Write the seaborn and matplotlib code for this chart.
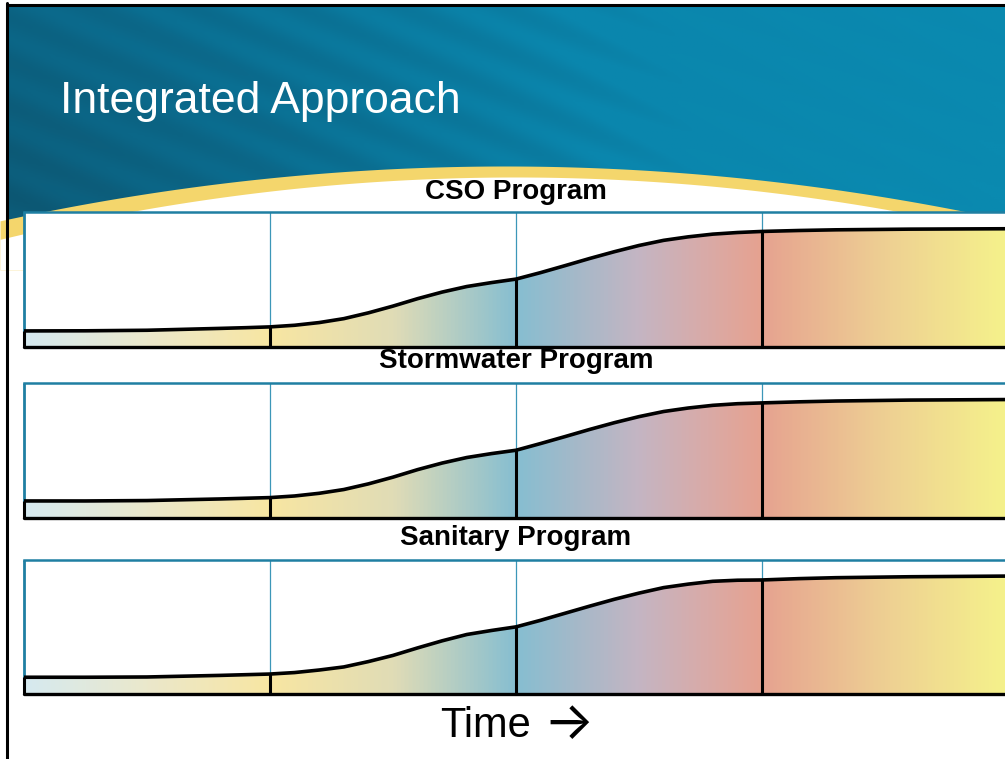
import numpy as np
import matplotlib
matplotlib.use("Agg")
import matplotlib.pyplot as plt
from matplotlib.colors import LinearSegmentedColormap
from matplotlib.patches import Polygon
import seaborn as sns

# time in phase units, phase boundaries at 1, 2, 3
time = [0.0, 0.25, 0.5, 0.65, 0.8, 0.9, 1.0, 1.1, 1.2, 1.3, 1.4, 1.5, 1.6, 1.7, 1.8, 1.9, 2.0,
        2.1, 2.2, 2.3, 2.4, 2.5, 2.6, 2.7, 2.8, 2.9, 3.0, 3.15, 3.3, 3.6, 4.0]
phase_edges = [0.0, 1.0, 2.0, 3.0]

# program effort as % of panel height
cso = [11.9, 12.0, 12.4, 13.1, 13.8, 14.3, 14.9, 16.1, 18.1, 21.0, 25.3, 30.3, 35.8, 40.7, 44.8,
       47.7, 50.3, 55.1, 60.3, 65.6, 70.6, 75.2, 79.0, 81.6, 83.6, 84.8, 85.6, 86.3, 86.8, 87.3, 87.6]
stormwater = [12.3, 12.3, 12.6, 13.2, 13.8, 14.3, 14.8, 16.0, 18.0, 20.8, 25.0, 30.0, 35.6, 40.5, 44.6,
              47.5, 50.0, 55.0, 60.2, 65.5, 70.5, 75.0, 78.8, 81.4, 83.4, 84.6, 85.2, 86.0, 86.6, 87.3, 87.7]
sanitary = [12.5, 12.5, 12.7, 13.3, 13.9, 14.4, 14.9, 16.0, 17.9, 20.2, 24.2, 28.8, 34.4, 39.7, 44.4,
            47.4, 50.1, 55.0, 60.3, 65.6, 70.7, 75.3, 79.4, 82.0, 84.1, 84.9, 85.1, 86.1, 86.8, 87.5, 88.0]

programs = ["CSO Program", "Stormwater Program", "Sanitary Program"]
series = [cso, stormwater, sanitary]

W, H = 1005, 759
# panel (top, bottom) in pixels
panel_px = [(212, 347), (383, 517.5), (560, 694)]
title_base = [199, 368, 545]

TEAL_LINE = "#1f7fa2"
grad = LinearSegmentedColormap.from_list("phases", [
    (0.0, "#d6eaf0"), (0.125, "#ebe8cb"), (0.25, "#f8e6a2"), (0.375, "#e0dcb6"),
    (0.5, "#86bed1"), (0.56, "#a4b9c9"), (0.625, "#c4b5c3"), (0.69, "#d8aba9"),
    (0.75, "#e6a290"), (0.875, "#eecf93"), (1.0, "#f5f28b")])

sns.set_style("white")
plt.rcParams["font.family"] = ["Liberation Sans", "DejaVu Sans"]

fig = plt.figure(figsize=(W / 100, H / 100), dpi=100)
fig.patch.set_facecolor("white")

# slide background / header
bg = fig.add_axes([0, 0, 1, 1])
bg.set_xlim(0, W)
bg.set_ylim(H, 0)
bg.axis("off")

xx = np.linspace(0, 1, 400)
yy = np.linspace(0, 1, 120)
gx, gy = np.meshgrid(xx, yy)
shade = np.clip(0.6 * gx + 0.2 * (1 - gy) + 0.25 * gx * gy + 0.15
                + 0.04 * np.sin(60 * (gx - 0.6 * gy)), 0, 1)
teal = LinearSegmentedColormap.from_list("teal", ["#0d5570", "#0b6a8c", "#0a86ad", "#0a8ab0"])
bg.imshow(shade, cmap=teal, extent=[8, W, 260, 5], aspect="auto", zorder=0)

px = np.linspace(0, W, 300)
yel_top = 166 + 2.15e-4 * (px - 505) ** 2
wht_top = 177 + 2.35e-4 * (px - 515) ** 2
bg.fill_between(px, yel_top, 270, color="#f4d66c", zorder=1, lw=0)
bg.fill_between(px, wht_top, 270, color="white", zorder=2, lw=0)
bg.plot([7, 7], [3, H], color="black", lw=2.2, zorder=3)
bg.plot([7, W], [4.5, 4.5], color="black", lw=2.2, zorder=3)

bg.text(60, 113, "Integrated Approach", color="white", fontsize=32,
        ha="left", va="baseline", zorder=4)

for (top, bot), name, vals, tb in zip(panel_px, programs, series, title_base):
    ax = fig.add_axes([24 / W, (H - bot) / H, 984 / W, (bot - top) / H])
    ax.set_xlim(0, 4)
    ax.set_ylim(0, 100)
    ax.set_facecolor("white")
    for side in ["left", "right", "bottom"]:
        ax.spines[side].set_visible(False)
    ax.spines["top"].set_color(TEAL_LINE)
    ax.spines["top"].set_linewidth(1.8)
    ax.set_xticks([])
    ax.set_yticks([])

    # thin phase dividers
    ax.vlines(phase_edges[1:], 0, 100, color="#3c97b8", lw=0.9, zorder=1)
    ax.vlines([0], 0, 100, color=TEAL_LINE, lw=2.0, zorder=1, clip_on=False)

    # gradient area under the curve
    img = ax.imshow(np.linspace(0, 1, 512).reshape(1, -1), cmap=grad,
                    extent=[0, 4, 0, 100], aspect="auto", zorder=2)
    poly = Polygon(np.column_stack([[time[0]] + time + [time[-1]],
                                    [0] + vals + [0]]),
                   closed=True, transform=ax.transData, facecolor="none", edgecolor="none")
    ax.add_patch(poly)
    img.set_clip_path(poly)

    # black outline
    sns.lineplot(x=time, y=vals, ax=ax, color="black", lw=2.6, zorder=4)
    edge_vals = [vals[time.index(e)] for e in phase_edges]
    ax.vlines(phase_edges, 0, edge_vals, color="black", lw=2.2, zorder=4, clip_on=False)
    ax.axhline(0, color="black", lw=2.4, zorder=4, clip_on=False)
    ax.set(xlabel="", ylabel="")

    fig.text(516 / W, 1 - tb / H, name, ha="center", va="baseline",
             fontsize=20, fontweight="bold", color="black")

fig.text(440 / W, 1 - 737 / H, "Time", ha="left", va="baseline",
         fontsize=30, color="black")
fig.text(569 / W, 1 - 739 / H, "\u2192", ha="center", va="baseline",
         fontsize=38, color="black", family=["Inter", "DejaVu Sans"])

plt.savefig("out.png", dpi=100)
plt.close()
